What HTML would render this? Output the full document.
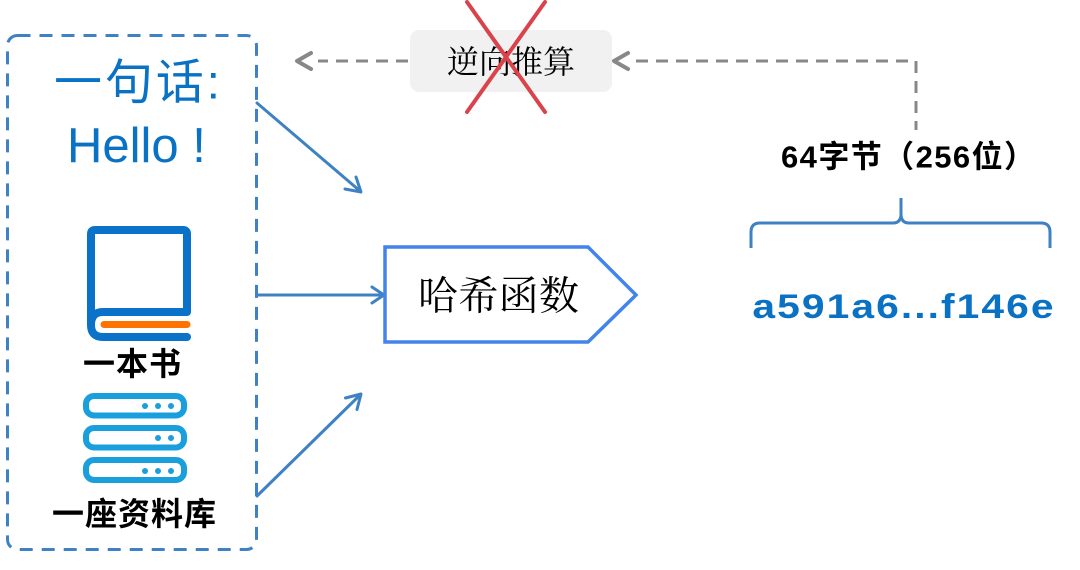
<!DOCTYPE html>
<html><head><meta charset="utf-8">
<style>
html,body{margin:0;padding:0;background:#fff;}
svg{display:block;}
</style></head>
<body>
<svg width="1080" height="570" viewBox="0 0 1080 570" xmlns="http://www.w3.org/2000/svg">
  <!-- dashed container -->
  <rect x="7.5" y="35.5" width="249" height="514" rx="10" fill="none" stroke="#3f82c4" stroke-width="3" stroke-dasharray="13 9"/>

  <!-- 一句话 -->
  <text x="54" y="83" font-family="'Liberation Sans','Noto Sans CJK SC',sans-serif" font-size="48" fill="#0a72c4" dominant-baseline="central" textLength="166" lengthAdjust="spacing">一句话:</text>
  <text x="67" y="162" font-family="'Liberation Sans',sans-serif" font-size="49" fill="#0a72c4">Hello !</text>

  <!-- book icon -->
  <path d="M91,325 V234 Q91,230 95,230 H183 Q187,230 187,234 V312 H103 Q91,312 91,325 Q91,337 103,337 H187" fill="none" stroke="#0a72c8" stroke-width="8" stroke-linejoin="round" stroke-linecap="round"/>
  <line x1="104" y1="324.5" x2="187" y2="324.5" stroke="#ff7300" stroke-width="7" stroke-linecap="round"/>
  <text x="83" y="364" font-family="'Liberation Sans','Noto Sans CJK SC',sans-serif" font-size="32" font-weight="bold" fill="#000" dominant-baseline="central" textLength="98" lengthAdjust="spacing">一本书</text>

  <!-- server icon -->
  <g fill="none" stroke="#1a9fdd" stroke-width="6">
    <rect x="86" y="396" width="98" height="19.5" rx="8"/>
    <rect x="86" y="428" width="98" height="19.5" rx="8"/>
    <rect x="86" y="460" width="98" height="20" rx="8"/>
  </g>
  <g fill="#1a9fdd">
    <circle cx="145" cy="406" r="3"/><circle cx="158" cy="406" r="3"/><circle cx="171" cy="406" r="3"/>
    <circle cx="158" cy="438" r="3"/><circle cx="171" cy="438" r="3"/>
    <circle cx="145" cy="471" r="3"/><circle cx="158" cy="471" r="3"/><circle cx="171" cy="471" r="3"/>
  </g>
  <text x="52" y="514" font-family="'Liberation Sans','Noto Sans CJK SC',sans-serif" font-size="32" font-weight="bold" fill="#000" dominant-baseline="central" textLength="164" lengthAdjust="spacing">一座资料库</text>

  <!-- blue arrows -->
  <g fill="none" stroke="#3f82c4" stroke-width="3" stroke-linecap="round" stroke-linejoin="round">
    <line x1="257" y1="103" x2="360" y2="191"/>
    <polyline points="345,189 361,192 356,177"/>
    <line x1="257" y1="295" x2="383" y2="295"/>
    <polyline points="372,287 384,295 372,303"/>
    <line x1="257" y1="496" x2="360" y2="395"/>
    <polyline points="345.5,398 361,394 357,409.5"/>
  </g>

  <!-- hash function box -->
  <polygon points="385,247 588,247 636,295 588,342 385,342" fill="#fff" stroke="#4284ea" stroke-width="3.5" stroke-linejoin="miter"/>
  <text x="418" y="296" font-family="'Liberation Serif','Noto Serif CJK SC',serif" font-size="40" fill="#000" dominant-baseline="central" textLength="161" lengthAdjust="spacing">哈希函数</text>

  <!-- reverse computation -->
  <rect x="410" y="30" width="202" height="62" rx="9" fill="#f1f1f1"/>
  <text x="511" y="62" font-family="'Liberation Serif','Noto Serif CJK SC',serif" font-size="32" fill="#000" text-anchor="middle" dominant-baseline="central">逆向推算</text>
  <g fill="none" stroke="#888" stroke-width="3" stroke-linecap="round" stroke-linejoin="round">
    <line x1="408" y1="61" x2="318" y2="61" stroke-dasharray="12 8" stroke-linecap="butt"/>
    <polyline points="311,53 297,61 311,69" stroke-width="4"/>
    <polyline points="628,53 614,61 628,69" stroke-width="4"/>
    <polyline points="636,61 916,61 916,130" stroke-dasharray="12 8" stroke-linecap="butt" stroke-linejoin="miter"/>
  </g>
  <g stroke="#d9434b" stroke-width="4" stroke-linecap="round">
    <line x1="467" y1="2" x2="545" y2="112"/>
    <line x1="545" y1="2" x2="467" y2="112"/>
  </g>

  <!-- 64 bytes label -->
  <text x="781" y="157" font-family="'Liberation Sans','Noto Sans CJK SC',sans-serif" font-size="31" font-weight="bold" fill="#000" dominant-baseline="central" textLength="254" lengthAdjust="spacing">64字节（256位）</text>

  <!-- brace -->
  <path d="M751,248 V232 Q751,223 760,223 H893 Q901,223 901,214 V198 M901,214 Q901,223 909,223 H1041 Q1050,223 1050,232 V248" fill="none" stroke="#3f82c4" stroke-width="3"/>

  <!-- hash value -->
  <text transform="scale(1.2,1)" x="627" y="318" font-family="'Liberation Sans',sans-serif" font-size="34" font-weight="bold" fill="#0a72c4" textLength="251" lengthAdjust="spacing">a591a6...f146e</text>
</svg>
</body></html>
